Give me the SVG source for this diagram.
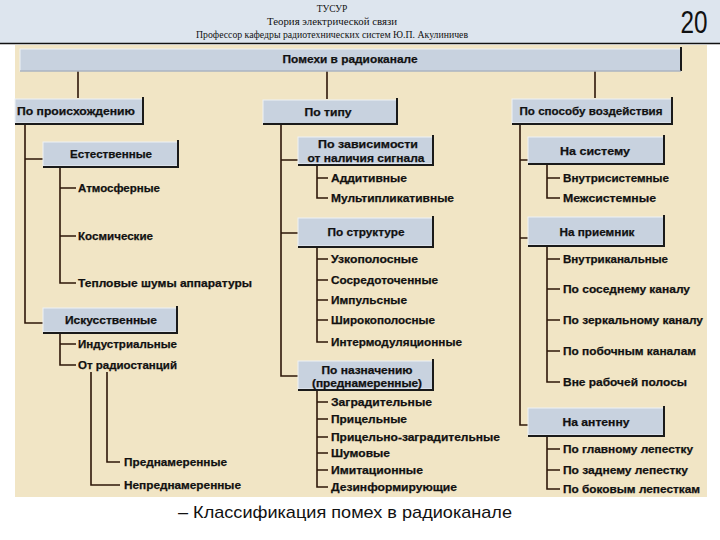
<svg xmlns="http://www.w3.org/2000/svg" width="720" height="540" viewBox="0 0 720 540">
<style>
.hdr{font-family:"Liberation Serif","DejaVu Serif",serif;font-size:9.5px;fill:#111}
.num{font-family:"Liberation Sans","DejaVu Sans",sans-serif;font-size:31px;fill:#111}
.box{fill:#c8d2df;stroke:#eef1f5;stroke-width:1}
.edge{fill:none;stroke:#1a1a1a;stroke-width:2}
.lbl{font-family:"Liberation Sans","DejaVu Sans",sans-serif;font-size:11.5px;font-weight:bold;fill:#111;stroke:#111;stroke-width:0.25}
.con{fill:none;stroke:#2e1709;stroke-width:1.6}
.cap{font-family:"Liberation Sans","Arial",sans-serif;font-size:17px;fill:#111}
</style>
<rect x="0" y="0" width="720" height="540" fill="#ffffff"/>
<rect x="0" y="0" width="720" height="43" fill="#dde5ee"/>
<line x1="0" y1="43.5" x2="720" y2="43.5" stroke="#111" stroke-width="1.5"/>
<g id="header">
<text class="hdr" x="332" y="12" text-anchor="middle">ТУСУР</text>
<text class="hdr" x="332" y="25" text-anchor="middle" textLength="130" lengthAdjust="spacingAndGlyphs">Теория электрической связи</text>
<text class="hdr" x="332" y="38" text-anchor="middle" textLength="272" lengthAdjust="spacingAndGlyphs">Профессор кафедры радиотехнических систем Ю.П. Акулиничев</text>
<text class="num" x="694" y="33" text-anchor="middle" textLength="27" lengthAdjust="spacingAndGlyphs">20</text>
</g>
<rect x="15" y="45" width="692" height="452" fill="#f1e5c5"/>

<g id="connectors">
<path class="con" d="M78 71V98M327 71V99M595 71V98"/>
<path class="con" d="M25 124V323H43M25 159H43"/>
<path class="con" d="M60 167V283H76M60 188H76M60 236H76"/>
<path class="con" d="M60 333V365H76M60 344H76"/>
<path class="con" d="M107 372V462H120M91 372V485H120"/>
<path class="con" d="M281 124V376H298M281 160H298M281 233H298"/>
<path class="con" d="M317 165V198H328M317 178H328"/>
<path class="con" d="M317 247V342H328M317 259H328M317 280H328M317 300H328M317 320H328"/>
<path class="con" d="M317 390V487H328M317 402H328M317 419H328M317 437H328M317 453H328M317 470H328"/>
<path class="con" d="M520 124V425H528M520 160H528M520 238H528"/>
<path class="con" d="M547 164V198H560M547 178H560"/>
<path class="con" d="M547 246V382H560M547 259H560M547 289H560M547 320H560M547 351H560"/>
<path class="con" d="M547 436V489H560M547 449H560M547 470H560"/>
</g>

<g id="root">
<rect class="box" x="20" y="49" width="661" height="22"/>
<path class="edge" d="M681 47V71" />
<line x1="20" y1="71" x2="681" y2="71" stroke="#8a96a8" stroke-width="1.2"/>
<text class="lbl" x="350" y="63" text-anchor="middle" textLength="135" lengthAdjust="spacingAndGlyphs">Помехи в радиоканале</text>
</g>

<g id="n-origin">
<rect class="box" x="15" y="99" width="128" height="24"/>
<path class="edge" d="M15 124H143V97"/>
<text class="lbl" x="17" y="115" textLength="118" lengthAdjust="spacingAndGlyphs">По  происхождению</text>
</g>
<g id="n-type">
<rect class="box" x="263" y="100" width="134" height="24"/>
<path class="edge" d="M263 124H397V98"/>
<text class="lbl" x="328" y="116" text-anchor="middle" textLength="47" lengthAdjust="spacingAndGlyphs">По типу</text>
</g>
<g id="n-method">
<rect class="box" x="512" y="99" width="160" height="24"/>
<path class="edge" d="M512 124H672V97"/>
<text class="lbl" x="591" y="115" text-anchor="middle" textLength="143" lengthAdjust="spacingAndGlyphs">По способу воздействия</text>
</g>

<g id="n-natural">
<rect class="box" x="43" y="142" width="135" height="24"/>
<path class="edge" d="M43 167H178V140"/>
<text class="lbl" x="111" y="158" text-anchor="middle" textLength="82" lengthAdjust="spacingAndGlyphs">Естественные</text>
</g>
<g id="n-artificial">
<rect class="box" x="43" y="308" width="134" height="24"/>
<path class="edge" d="M43 333H177V306"/>
<text class="lbl" x="111" y="324" text-anchor="middle" textLength="92" lengthAdjust="spacingAndGlyphs">Искусственные</text>
</g>
<g id="n-signal">
<rect class="box" x="298" y="137" width="135" height="27"/>
<path class="edge" d="M298 165H433V135"/>
<text class="lbl" x="368" y="148" text-anchor="middle" textLength="100" lengthAdjust="spacingAndGlyphs">По зависимости</text>
<text class="lbl" x="366" y="162" text-anchor="middle" textLength="117" lengthAdjust="spacingAndGlyphs">от наличия сигнала</text>
</g>
<g id="n-structure">
<rect class="box" x="298" y="218" width="135" height="28"/>
<path class="edge" d="M298 247H433V216"/>
<text class="lbl" x="366" y="236" text-anchor="middle" textLength="77" lengthAdjust="spacingAndGlyphs">По структуре</text>
</g>
<g id="n-purpose">
<rect class="box" x="298" y="361" width="135" height="28"/>
<path class="edge" d="M298 390H433V359"/>
<text class="lbl" x="367" y="374" text-anchor="middle" textLength="91" lengthAdjust="spacingAndGlyphs">По назначению</text>
<text class="lbl" x="367" y="387" text-anchor="middle" textLength="110" lengthAdjust="spacingAndGlyphs">(преднамеренные)</text>
</g>
<g id="n-system">
<rect class="box" x="528" y="137" width="136" height="27"/>
<path class="edge" d="M528 164H664V135"/>
<text class="lbl" x="595" y="155" text-anchor="middle" textLength="70" lengthAdjust="spacingAndGlyphs">На систему</text>
</g>
<g id="n-receiver">
<rect class="box" x="528" y="217" width="136" height="28"/>
<path class="edge" d="M528 246H664V215"/>
<text class="lbl" x="597" y="236" text-anchor="middle" textLength="75" lengthAdjust="spacingAndGlyphs">На приемник</text>
</g>
<g id="n-antenna">
<rect class="box" x="528" y="408" width="136" height="27"/>
<path class="edge" d="M528 436H664V406"/>
<text class="lbl" x="596" y="426" text-anchor="middle" textLength="67" lengthAdjust="spacingAndGlyphs">На антенну</text>
</g>

<g id="leaves-left">
<text class="lbl" x="78" y="192" textLength="82" lengthAdjust="spacingAndGlyphs">Атмосферные</text>
<text class="lbl" x="78" y="240" textLength="75" lengthAdjust="spacingAndGlyphs">Космические</text>
<text class="lbl" x="78" y="287" textLength="174" lengthAdjust="spacingAndGlyphs">Тепловые  шумы  аппаратуры</text>
<text class="lbl" x="78" y="348" textLength="99" lengthAdjust="spacingAndGlyphs">Индустриальные</text>
<text class="lbl" x="78" y="369" textLength="99" lengthAdjust="spacingAndGlyphs">От радиостанций</text>
<text class="lbl" x="124" y="466" textLength="103" lengthAdjust="spacingAndGlyphs">Преднамеренные</text>
<text class="lbl" x="124" y="489" textLength="117" lengthAdjust="spacingAndGlyphs">Непреднамеренные</text>
</g>
<g id="leaves-middle">
<text class="lbl" x="331" y="182" textLength="76" lengthAdjust="spacingAndGlyphs">Аддитивные</text>
<text class="lbl" x="331" y="202" textLength="123" lengthAdjust="spacingAndGlyphs">Мультипликативные</text>
<text class="lbl" x="331" y="263" textLength="87" lengthAdjust="spacingAndGlyphs">Узкополосные</text>
<text class="lbl" x="331" y="284" textLength="107" lengthAdjust="spacingAndGlyphs">Сосредоточенные</text>
<text class="lbl" x="331" y="304" textLength="76" lengthAdjust="spacingAndGlyphs">Импульсные</text>
<text class="lbl" x="331" y="324" textLength="104" lengthAdjust="spacingAndGlyphs">Широкополосные</text>
<text class="lbl" x="331" y="346" textLength="131" lengthAdjust="spacingAndGlyphs">Интермодуляционные</text>
<text class="lbl" x="331" y="406" textLength="101" lengthAdjust="spacingAndGlyphs">Заградительные</text>
<text class="lbl" x="331" y="423" textLength="76" lengthAdjust="spacingAndGlyphs">Прицельные</text>
<text class="lbl" x="331" y="441" textLength="169" lengthAdjust="spacingAndGlyphs">Прицельно-заградительные</text>
<text class="lbl" x="331" y="457" textLength="59" lengthAdjust="spacingAndGlyphs">Шумовые</text>
<text class="lbl" x="331" y="474" textLength="92" lengthAdjust="spacingAndGlyphs">Имитационные</text>
<text class="lbl" x="331" y="491" textLength="126" lengthAdjust="spacingAndGlyphs">Дезинформирующие</text>
</g>
<g id="leaves-right">
<text class="lbl" x="563" y="182" textLength="106" lengthAdjust="spacingAndGlyphs">Внутрисистемные</text>
<text class="lbl" x="563" y="202" textLength="93" lengthAdjust="spacingAndGlyphs">Межсистемные</text>
<text class="lbl" x="563" y="263" textLength="105" lengthAdjust="spacingAndGlyphs">Внутриканальные</text>
<text class="lbl" x="563" y="293" textLength="127" lengthAdjust="spacingAndGlyphs">По соседнему каналу</text>
<text class="lbl" x="563" y="324" textLength="140" lengthAdjust="spacingAndGlyphs">По зеркальному каналу</text>
<text class="lbl" x="563" y="355" textLength="133" lengthAdjust="spacingAndGlyphs">По побочным каналам</text>
<text class="lbl" x="563" y="386" textLength="124" lengthAdjust="spacingAndGlyphs">Вне  рабочей полосы</text>
<text class="lbl" x="563" y="453" textLength="130" lengthAdjust="spacingAndGlyphs">По главному лепестку</text>
<text class="lbl" x="563" y="474" textLength="125" lengthAdjust="spacingAndGlyphs">По заднему лепестку</text>
<text class="lbl" x="563" y="493" textLength="137" lengthAdjust="spacingAndGlyphs">По боковым лепесткам</text>
</g>

<text class="cap" x="178" y="518" textLength="334" lengthAdjust="spacingAndGlyphs">– Классификация помех в радиоканале</text>
</svg>
